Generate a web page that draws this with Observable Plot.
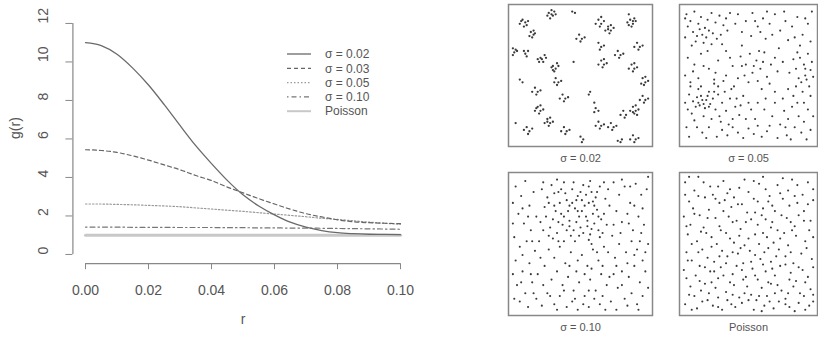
<!DOCTYPE html>
<html><head><meta charset="utf-8">
<script src="https://cdn.jsdelivr.net/npm/d3@7"></script>
<script src="https://cdn.jsdelivr.net/npm/@observablehq/plot@0.6"></script>
<style>
html,body{margin:0;padding:0;background:#fff;overflow:hidden}
#fig{position:relative;width:818px;height:339px;font-family:"Liberation Sans",Arial,sans-serif}
#fig > *{position:absolute}
</style></head><body><div id="fig"></div>
<script>
// ---- left chart data: pair correlation g(r) ----
const rVals = [0, .005, .01, .015, .02, .025, .03, .035, .04, .045, .05, .055, .06, .065, .07, .075, .08, .085, .09, .095, .1];
const g002 = [11.0, 10.85, 10.4, 9.68, 8.8, 7.78, 6.7, 5.65, 4.72, 3.85, 3.1, 2.52, 2.06, 1.68, 1.42, 1.24, 1.13, 1.08, 1.05, 1.04, 1.03];
const g003 = [5.44, 5.4, 5.3, 5.12, 4.9, 4.65, 4.4, 4.1, 3.84, 3.5, 3.2, 2.9, 2.62, 2.35, 2.12, 1.95, 1.8, 1.7, 1.65, 1.62, 1.6];
const g005 = [2.62, 2.62, 2.6, 2.58, 2.55, 2.52, 2.48, 2.42, 2.36, 2.3, 2.24, 2.17, 2.1, 2.03, 1.96, 1.88, 1.82, 1.75, 1.68, 1.62, 1.57];
const g010 = [1.42, 1.42, 1.42, 1.41, 1.41, 1.41, 1.4, 1.4, 1.4, 1.39, 1.39, 1.38, 1.38, 1.37, 1.37, 1.36, 1.35, 1.34, 1.33, 1.32, 1.31];
const gPois = [1, 1, 1, 1, 1, 1, 1, 1, 1, 1, 1, 1, 1, 1, 1, 1, 1, 1, 1, 1, 1];
const seriesLabels = ["σ = 0.02", "σ = 0.03", "σ = 0.05", "σ = 0.10", "Poisson"];
const xTicks = [0, 0.02, 0.04, 0.06, 0.08, 0.10];
const yTicks = [0, 2, 4, 6, 8, 10, 12];

// ---- point patterns (unit square, in percent) ----
const pts002 = [[27,96],[29,95],[31,97],[28,92],[30,94],[26,94],[29,98],[32,95],
[8,91],[10,89],[9,86],[12,90],[6,88],[11,87],[7,90],
[14,82],[16,80],[15,78],[17,81],[13,79],[16,83],
[1,70],[2,67],[3,69],[1,65],[4,68],
[10,66],[12,68],[11,64],[9,68],
[21,63],[23,60],[22,62],[25,63],[20,60],[24,65],[19,62],
[30,57],[32,55],[31,53],[34,57],[29,56],[33,59],[30,54],
[32,48],[34,45],[33,43],[36,46],[31,45],
[17,41],[19,38],[18,36],[21,39],[15,38],
[37,36],[39,33],[38,31],[41,34],[35,33],
[19,27],[21,24],[20,22],[23,25],[17,24],[21,28],[18,26],
[26,18],[28,15],[27,13],[30,16],[24,15],[28,19],[26,16],
[38,12],[40,9],[39,7],[42,10],[36,9],
[11,12],[13,9],[12,7],[9,10],[15,11],
[49,80],[51,77],[50,75],[53,78],[47,77],
[63,91],[65,88],[64,86],[67,90],[61,88],[65,93],
[70,86],[72,83],[71,81],[74,85],[68,83],[72,87],[70,84],
[86,91],[88,88],[87,86],[90,90],[84,89],[89,92],[88,90],[85,87],
[91,74],[93,71],[92,69],[95,72],[89,71],
[63,74],[65,71],[64,69],[67,72],
[65,61],[67,58],[66,56],[69,59],[63,58],[67,62],
[77,68],[79,65],[78,63],[81,66],[75,65],
[87,58],[89,55],[88,53],[91,56],[85,55],[89,59],
[95,48],[97,45],[96,43],[99,46],[94,44],[97,49],
[95,35],[97,32],[96,30],[99,33],[93,32],
[88,27],[90,24],[89,22],[92,25],[86,24],[90,28],[88,23],[91,21],
[81,24],[83,21],[82,19],[79,21],
[63,16],[65,13],[64,11],[67,14],[61,13],
[72,15],[74,12],[73,10],[76,13],[70,12],
[88,6],[90,3],[89,1],[92,4],[86,3],
[61,26],[63,24],[60,23],[50,5],[52,3],[51,1],[77,2],[79,1],[80,3],
[56,36],[45,60],[8,45],[3,15],[60,30],[85,95],[46,96],[44,97],[57,38],[6,47]];

const pts005 = [[3,95],[6,90],[9,97],[12,88],[14,93],[17,85],[19,91],[22,96],[25,89],[28,94],[31,87],[33,92],[8,82],[11,79],[13,84],[15,80],[18,78],[20,83],[23,81],[26,77],[10,75],[16,74],[22,73],[29,80],[34,83],[4,86],[2,78],[7,72],
[42,95],[48,90],[53,96],[57,86],[61,92],[66,88],[70,95],[74,83],[78,90],[83,86],[87,93],[91,80],[95,88],[98,97],[45,82],[52,79],[63,77],[80,76],[89,72],
[4,63],[9,58],[14,66],[20,55],[27,61],[33,68],[38,57],[2,50],[12,48],[6,42],[24,47],
[44,64],[48,58],[51,66],[53,52],[56,61],[59,55],[62,67],[64,49],[67,58],[70,63],[47,50],[57,46],[61,60],[54,57],[50,45],[66,44],[72,53],[42,48],
[89,63],[92,58],[95,66],[97,54],[93,50],[90,45],[96,42],[98,60],[91,38],[94,47],[86,55],[99,49],[87,67],
[5,36],[8,31],[11,34],[13,28],[15,32],[17,26],[19,35],[21,29],[23,33],[25,25],[12,30],[14,35],[16,29],[18,32],[20,27],[10,27],[7,22],[27,36],[30,30],[33,24],[36,33],[40,27],[43,21],[46,35],[28,20],[22,18],[16,20],[9,17],[4,25],[38,18],[24,38],[32,38],
[30,10],[34,6],[38,12],[42,8],[46,4],[50,11],[54,7],[57,13],[60,5],[26,5],[15,8],[5,5],[20,12],
[77,24],[80,18],[83,27],[85,12],[88,20],[90,8],[92,16],[79,6],[74,14],[95,25],[97,10],[68,20],[64,9],[70,30],
[70,38],[80,40],[76,33],[84,35],
[36,96],[40,88],[59,82],[68,80],[85,78],[93,92],[97,75],[2,92],[19,68],[30,73],[36,63],[16,57],[8,53],[25,52],[31,46],[39,42],[45,57],[58,68],[73,70],[76,60],[81,52],[84,62],[93,55],[88,48],[97,35],[92,30],[86,42],[63,33],[57,30],[52,25],[48,18],[44,28],[35,14],[29,16],[18,4],[11,12],[3,12],[2,30],[6,45],[24,44],[14,42],[66,13],[72,4],[82,3],[94,3],[99,20],[87,30],[78,12],[62,25],[55,18],[41,33],[37,40],[27,42],[20,38],[12,40],[50,30],[60,40],[33,50],[45,72],[55,90],[64,97],[77,97]];

const pts010 = [[22,90],[26,84],[29,93],[31,78],[34,88],[36,72],[38,95],[40,82],[42,67],[44,90],[46,76],[48,85],[50,62],[52,93],[54,70],[56,80],[58,88],[60,65],[62,75],[64,92],[66,58],[68,83],[25,70],[28,62],[33,58],[37,64],[41,74],[45,60],[49,70],[53,78],[57,57],[61,84],[65,68],[30,68],[35,80],[39,87],[43,56],[47,66],[51,82],[55,63],[59,72],[63,60],[24,77],[27,56],[32,74],[36,90],[40,60],[44,80],[48,74],[52,58],[56,92],[60,78],[67,72],[70,90],
[3,92],[7,85],[10,96],[13,78],[16,88],[5,72],[9,65],[14,60],[18,70],[2,55],[6,48],[11,52],[17,45],[3,38],[8,30],[13,36],[19,28],[4,20],[10,14],[15,22],[6,8],[12,4],[18,10],[21,40],[24,34],[20,52],
[74,95],[78,86],[82,92],[86,80],[90,94],[94,86],[98,90],[76,74],[80,66],[84,72],[88,60],[92,70],[96,64],[73,56],[78,50],[83,44],[87,52],[91,46],[95,38],[99,50],[75,40],[80,30],[85,26],[89,34],[93,22],[97,30],[77,18],[82,10],[87,14],[91,6],[95,12],[99,18],[72,8],[74,28],
[27,46],[31,40],[35,48],[39,36],[43,44],[47,30],[51,42],[55,34],[59,46],[63,38],[67,48],[70,44],[29,24],[33,30],[37,20],[41,26],[45,16],[49,22],[53,12],[57,24],[61,16],[65,28],[69,20],[26,14],[31,6],[35,12],[40,4],[44,8],[48,2],[52,6],[56,4],[60,10],[64,6],[68,2],[34,52],[58,50],
[23,95],[33,97],[45,95],[50,88],[57,96],[62,88],[67,95],[71,78],[69,64],[64,55],[56,53],[46,52],[38,52],[30,54],[23,60],[21,66],[27,80],[31,87],[42,78],[47,82],[54,86],[59,81],[63,70],[51,74],[38,70],[34,66],[42,63],[49,56],[55,67],[58,61],
[1,80],[8,76],[12,70],[1,65],[15,52],[8,42],[1,28],[14,28],[7,22],[2,10],[16,14],[23,20],[22,5],[28,12],[38,16],[42,34],[48,38],[53,28],[58,32],[62,44],[66,34],[71,26],[76,34],[80,20],[84,36],[89,42],[93,52],[97,44],[94,58],[85,65],[79,58],[74,64],[89,78],[95,76],[80,97],[86,92],[99,99],[92,2],[84,5],[76,2],[66,12],[56,16],[46,10],[33,2]];

const ptsPois = [[2,95],[9,89],[12,99],[21,92],[23,86],[31,96],[36,90],[39,84],[47,97],[50,88],[58,94],[61,99],[66,85],[72,93],[80,89],[83,97],[91,86],[95,95],
[5,81],[8,76],[17,84],[20,75],[28,80],[32,82],[37,77],[45,79],[49,73],[54,83],[61,76],[65,81],[70,74],[76,83],[81,78],[87,80],[92,74],[99,82],
[1,70],[6,64],[13,71],[16,62],[25,69],[28,63],[35,70],[41,67],[44,61],[52,68],[57,64],[60,71],[68,66],[72,60],[79,69],[85,63],[88,71],[97,67],
[4,57],[11,52],[14,59],[22,55],[26,50],[33,58],[39,51],[43,56],[47,49],[55,57],[58,50],[64,55],[69,51],[77,58],[80,49],[86,56],[93,52],[96,60],
[3,44],[7,38],[15,46],[19,40],[24,37],[30,45],[34,41],[42,43],[46,36],[51,45],[59,39],[62,44],[67,37],[73,46],[78,41],[84,36],[90,43],[98,39],
[1,31],[10,27],[13,34],[21,30],[27,25],[29,33],[38,28],[41,34],[48,26],[53,32],[57,24],[63,30],[70,27],[74,34],[82,29],[86,23],[91,31],[95,26],
[6,19],[9,12],[17,21],[20,14],[25,18],[33,15],[36,22],[43,11],[49,19],[52,13],[60,18],[64,12],[67,21],[75,16],[78,10],[84,19],[89,14],[97,17],
[2,6],[11,3],[15,8],[23,5],[30,2],[34,9],[40,4],[45,7],[54,2],[56,9],[62,5],[69,3],[73,8],[81,4],[88,7],[93,2],[99,8],
[5,99],[16,95],[27,92],[43,91],[54,96],[63,90],[76,98],[87,93],[99,90],
[2,86],[12,85],[25,83],[34,87],[42,79],[57,81],[68,78],[74,87],[85,85],[95,79],
[9,72],[19,69],[31,74],[38,66],[48,66],[55,73],[63,68],[75,71],[82,66],[92,67],
[3,63],[18,58],[29,60],[36,54],[50,54],[61,58],[67,62],[74,54],[83,60],[99,55],
[7,50],[12,44],[22,48],[28,41],[38,44],[44,47],[55,42],[65,47],[71,41],[82,44],[94,47],
[4,38],[17,33],[24,30],[33,36],[45,31],[52,37],[61,35],[68,32],[78,35],[88,33],[99,33],
[3,25],[13,23],[22,22],[31,27],[39,20],[46,24],[55,27],[65,22],[72,20],[81,24],[93,22],
[5,13],[14,16],[27,11],[38,13],[47,14],[58,12],[70,14],[80,14],[92,12],[99,13],
[7,2],[19,9],[27,4],[37,6],[50,9],[60,1],[66,8],[78,6],[85,1],[96,5]];
const panelLabels = ["σ = 0.02", "σ = 0.05", "σ = 0.10", "Poisson"];

// ---- styling / layout ----
const FONT = '"Liberation Sans", Arial, sans-serif';
const lineStyles = [
  {stroke: "#6a6a6a", strokeWidth: 1.3, dash: null},
  {stroke: "#666", strokeWidth: 1.2, dash: "4,3"},
  {stroke: "#999", strokeWidth: 1.2, dash: "1.5,2"},
  {stroke: "#777", strokeWidth: 1.2, dash: "1.5,3,5,3"},
  {stroke: "#c8c8c8", strokeWidth: 3, dash: null}
];
const seriesValues = [g002, g003, g005, g010, gPois];
const xDom = [-0.004, 0.104], yDom = [-0.48, 12.48];
const fig = document.getElementById("fig");

const left = Plot.plot({
  width: 420, height: 339,
  marginLeft: 72.4, marginRight: 7.4, marginTop: 13.7, marginBottom: 75.8,
  x: {domain: xDom}, y: {domain: yDom},
  style: {fontFamily: FONT, fontSize: "14px", color: "#555", background: "transparent", overflow: "visible"},
  marks: [
    ...seriesValues.map((vals, k) => Plot.line(rVals, {
      x: d => d, y: (d, i) => vals[i], curve: "monotone-x",
      stroke: lineStyles[k].stroke, strokeWidth: lineStyles[k].strokeWidth,
      strokeDasharray: lineStyles[k].dash
    })).reverse(),
    Plot.ruleY([yDom[0]], {x1: xTicks[0], x2: xTicks[xTicks.length - 1], stroke: "#888", strokeWidth: 1.2}),
    Plot.ruleX([xDom[0]], {y1: yTicks[0], y2: yTicks[yTicks.length - 1], stroke: "#888", strokeWidth: 1.2}),
    Plot.axisX({ticks: xTicks, tickFormat: d3.format(".2f"), tickSize: 6, tickPadding: 15, label: null, stroke: "#888", fill: "#555"}),
    Plot.axisY({ticks: yTicks, tickFormat: () => "", tickSize: 7, label: null, stroke: "#888"}),
    Plot.text(yTicks, {y: d => d, text: d => String(d), frameAnchor: "left", dx: -29, rotate: -90, fill: "#555"}),
    Plot.text(["r"], {frameAnchor: "bottom", dy: 60, fill: "#555"}),
    Plot.text(["g(r)"], {frameAnchor: "left", dx: -57, rotate: -90, fill: "#555"})
  ]
});
left.style.left = "0px"; left.style.top = "0px";
fig.appendChild(left);

// legend
const leg = d3.create("svg").attr("width", 420).attr("height", 140)
  .style("left", "0px").style("top", "0px").style("font-family", FONT);
seriesLabels.forEach((lab, k) => {
  const y = 54 + k * 14.3;
  leg.append("line").attr("x1", 287).attr("x2", 311).attr("y1", y).attr("y2", y)
    .attr("stroke", lineStyles[k].stroke).attr("stroke-width", Math.min(lineStyles[k].strokeWidth, 2))
    .attr("stroke-dasharray", lineStyles[k].dash);
  leg.append("text").attr("x", 325).attr("y", y).attr("dy", "0.35em")
    .attr("font-size", 12).attr("fill", "#555").text(lab);
});
fig.appendChild(leg.node());

// point-pattern panels
const panels = [
  {pts: pts002, left: 507, top: 3, w: 146, h: 144, r: 1.15},
  {pts: pts005, left: 678, top: 3, w: 140, h: 144, r: 1.05},
  {pts: pts010, left: 507, top: 171, w: 146, h: 145, r: 1.05},
  {pts: ptsPois, left: 678, top: 171, w: 140, h: 145, r: 1.05}
];
panels.forEach((p, k) => {
  const svg = Plot.plot({
    width: p.w, height: p.h + 26,
    marginTop: 1, marginLeft: 1, marginRight: 1, marginBottom: 27,
    x: {domain: [0, 100], axis: null}, y: {domain: [0, 100], axis: null},
    inset: 3,
    style: {fontFamily: FONT, fontSize: "11px", color: "#555", background: "transparent", overflow: "visible"},
    marks: [
      Plot.dot(p.pts, {x: d => d[0], y: d => d[1], r: p.r, fill: "#3a3a3a", stroke: null}),
      Plot.frame({stroke: "#888", strokeWidth: 1.5}),
      Plot.text([panelLabels[k]], {frameAnchor: "bottom", dy: 15, fill: "#555"})
    ]
  });
  svg.style.left = p.left + "px"; svg.style.top = p.top + "px";
  fig.appendChild(svg);
});
</script></body></html>
